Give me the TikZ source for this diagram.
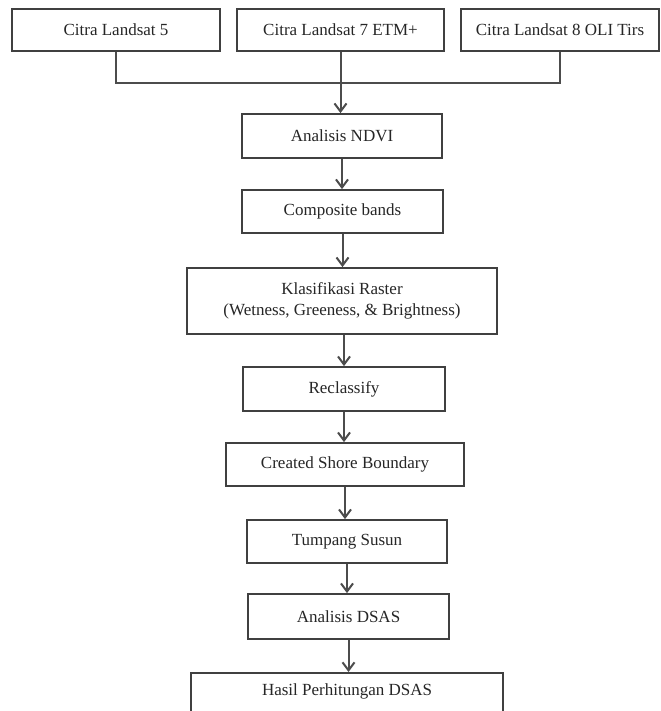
\documentclass[tikz,border=0pt]{standalone}
\usepackage{fontspec}
\setmainfont{Liberation Serif}
\usetikzlibrary{arrows.meta}
\newcommand{\flowBox}[5]{%%
  \node[boxStyle,minimum width=#3,minimum height=#4] (#1) at (#2) {#5};
}

\begin{document}
\begin{tikzpicture}[%%
  x=0.5pt,y=-0.5pt,%%
  boxStyle/.style={draw=black!75,line width=0.9pt,fill=white,inner sep=1pt,align=center,text=black!85,font=\fontsize{8.5}{10.5}\selectfont},%%
  lineStyle/.style={draw=black!70,line width=1pt},%%
  arrowStyle/.style={lineStyle,-{Straight Barb[length=4pt,width=6pt]}}%%
]
%%
%%
\useasboundingbox (0,0) rectangle (660,711);
%%
%% The three images.
\flowBox{landsatFive}{116,30}{104pt}{21pt}{Citra Landsat 5}
\flowBox{landsatSeven}{340.5,30}{103.5pt}{21pt}{Citra Landsat 7 ETM+}
\flowBox{landsatEight}{560,30}{99pt}{21pt}{Citra Landsat 8 OLI Tirs}
%%
%% The processing steps.
\flowBox{ndvi}{342,136}{100pt}{22pt}{Analisis NDVI}
\flowBox{composite}{342.5,211.5}{100.5pt}{21.5pt}{Composite bands}
\flowBox{klasifikasi}{342,301}{155pt}{33pt}{Klasifikasi Raster\\(Wetness, Greeness, \& Brightness)}
\flowBox{reclassify}{344,389}{101pt}{22pt}{Reclassify}
\flowBox{shore}{345,464.5}{119pt}{21.5pt}{Created Shore Boundary}
\flowBox{tumpang}{347,541.5}{100pt}{21.5pt}{Tumpang Susun}
\flowBox{dsas}{348.5,616.5}{100.5pt}{22.5pt}{Analisis DSAS}
%% The result, cut at the bottom.
\node[boxStyle,anchor=north,minimum width=156pt,text height=7pt,text depth=24pt,inner ysep=4.5pt] (hasil) at (347,672) {Hasil Perhitungan DSAS};
%%
%% Joining the images.
\coordinate (joint) at (340.5,83);
\draw[lineStyle] (landsatFive.south) |- (joint) -| (landsatEight.south);
\draw[arrowStyle] (landsatSeven.south) -- (landsatSeven.south |- ndvi.north);
%%
%% Arrows between the steps.
\draw[arrowStyle] (ndvi.south) -- (ndvi.south |- composite.north);
\draw[arrowStyle] (composite.south) -- (composite.south |- klasifikasi.north);
\draw[arrowStyle] (reclassify.north |- klasifikasi.south) -- (reclassify.north);
\draw[arrowStyle] (reclassify.south) -- (reclassify.south |- shore.north);
\draw[arrowStyle] (shore.south) -- (shore.south |- tumpang.north);
\draw[arrowStyle] (tumpang.south) -- (tumpang.south |- dsas.north);
\draw[arrowStyle] (dsas.south) -- (dsas.south |- hasil.north);
\end{tikzpicture}
\end{document}
